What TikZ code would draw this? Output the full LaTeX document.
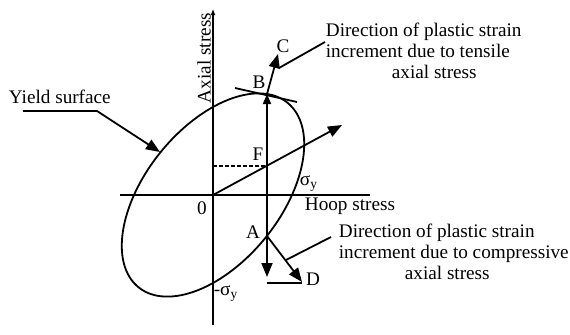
\documentclass[tikz,border=0pt]{standalone}
\usepackage{fontspec}
\setmainfont{Liberation Serif}
\usetikzlibrary{arrows.meta}
\begin{document}
\begin{tikzpicture}[x=0.5pt,y=0.5pt,line width=0.9pt,
  >={Triangle[length=7pt,width=5.5pt]},
  font=\fontsize{9.6}{10.6}\selectfont,
  lbl/.style={inner sep=0pt},
  note/.style={inner sep=0pt,align=left,anchor=north west}]
\useasboundingbox (0,0) rectangle (570,334);
% axes
\coordinate (O) at (213,139);
\coordinate (atop) at (213,325);
\coordinate (abot) at (213,9);
\coordinate (hl) at (120,139);
\coordinate (hr) at (370,139);
\draw[-{Latex[length=3pt,width=2.5pt]}] (abot) -- (atop);
\draw (hl) -- (hr);
\node[lbl,rotate=90] (axial) at (204,276) {Axial stress};
\node[lbl,anchor=west] (hoop) at (304,128) {Hoop stress};
\node[lbl] (zero) at (202,126) {0};
% yield surface
\draw[shift={(O)},xscale=79,yscale=88,rotate=45] (0,0) ellipse [x radius=1.414,y radius=0.8165];
\node[lbl] (sy) at (309,150) {σ\textsubscript{y}};
\node[lbl] (msy) at (226,40) {-σ\textsubscript{y}};
\node[lbl,anchor=base west] (ys) at (8,231) {Yield surface};
\coordinate (ys1) at (23,223);
\coordinate (ys2) at (97,223);
\coordinate (ys3) at (160,182);
\draw[->] (ys1) -- (ys2) -- (ys3);
% loading path
\coordinate (B) at (267,240);
\coordinate (A) at (267,98);
\coordinate (F) at (267,168.3);
\coordinate (Fy) at (213,168.3);
\coordinate (N) at (342,209);
\coordinate (Adn) at (267,57);
\draw[dash pattern=on 2pt off 1pt] (Fy) -- (F);
\draw[->] (O) -- (N);
\draw[{Triangle[length=7pt,width=5.5pt]}-{Triangle[length=5pt,width=4pt]}] (Adn) -- (B);
\node[lbl] (lF) at (258,180) {F};
\node[lbl] (lA) at (253,102) {A};
\node[lbl] (lB) at (259,252) {B};
% strain increments
\coordinate (C) at (278,280);
\coordinate (D) at (302,52);
\coordinate (tl) at (235,246);
\coordinate (tr) at (297,232);
\coordinate (Dl) at (267,51);
\coordinate (Dr) at (302,51);
\draw (tl) -- (tr);
\draw[->] (B) -- (C);
\draw[->] (A) -- (D);
\draw (Dl) -- (Dr);
\node[lbl] (lC) at (283,288) {C};
\node[lbl] (lD) at (313,55) {D};
% notes
\node[note] (tens) at (325,312) {Direction of plastic strain\\increment due to tensile\\\hspace*{33pt}axial stress};
\node[note] (comp) at (338,111) {Direction of plastic strain\\increment due to compressive\\\hspace*{33pt}axial stress};
\coordinate (tc1) at (279,266);
\coordinate (tc2) at (325,292);
\coordinate (cc1) at (286,74);
\coordinate (cc2) at (331,97);
\draw (tc1) -- (tc2);
\draw (cc1) -- (cc2);
\end{tikzpicture}
\end{document}
